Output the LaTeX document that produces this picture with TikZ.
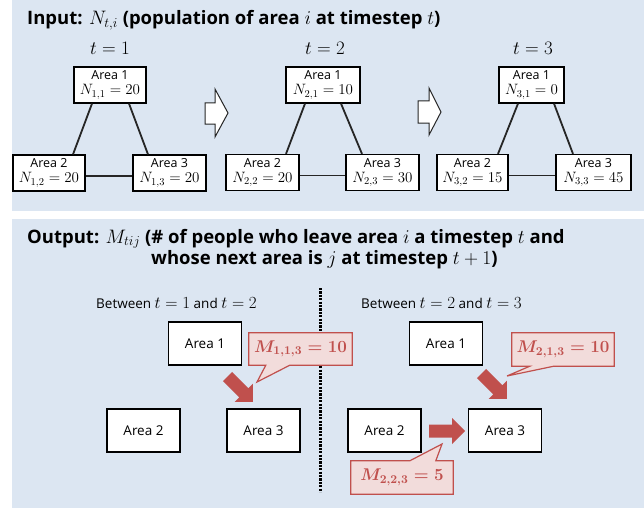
\documentclass[tikz,border=0pt]{standalone}
\usepackage{fix-cm}
\usepackage{fontspec}
\setmainfont{Open Sans}
\usetikzlibrary{calc}
\definecolor{panelblue}{HTML}{DCE6F2}
\definecolor{calloutpink}{HTML}{F2DCDB}
\definecolor{arrowred}{HTML}{C0504D}
\pgfdeclarelayer{bg}
\pgfdeclarelayer{mid}
\pgfsetlayers{bg,mid,main}
\newcommand\mth[2]{{\fontsize{#1}{#1}\selectfont$#2$}}
\newcommand\bmth[2]{{\fontsize{#1}{#1}\selectfont\boldmath$#2$}}
\newcommand\fatarr[4]{\fill[arrowred, shift={(#1,#2)}, rotate=#3] (0,-6.5) -- (#4-13,-6.5) -- (#4-13,-13) -- (#4,0) -- (#4-13,13) -- (#4-13,6.5) -- (0,6.5) -- cycle;}
\begin{document}
\begin{tikzpicture}[x=1pt,y=-1pt,
  panel/.style={fill=panelblue,draw=none},
  topbox/.style={draw=black,line width=1.2pt,fill=white,align=center,inner sep=1pt,minimum height=36pt,font=\fontsize{12.5}{15}\selectfont},
  lowbox/.style={draw=black,line width=1.2pt,fill=white,minimum width=73pt,minimum height=43pt,font=\fontsize{13.5}{15}\selectfont},
  conn/.style={line width=1.8pt,draw=black!85},
  hollow/.style={fill=white,draw=black!85,line width=1pt,line join=miter},
  titletext/.style={anchor=base west,inner sep=0pt,font=\fontsize{18.5}{21}\selectfont\bfseries},
  tlabel/.style={anchor=base,inner sep=0pt},
  betw/.style={anchor=west,inner sep=0pt,font=\fontsize{13.5}{15}\selectfont},
  callout/.style={inner sep=0pt,text=arrowred},
  calloutshape/.style={fill=calloutpink,draw=arrowred,line width=1.2pt,line join=miter},
  dotline/.style={line width=3pt,dash pattern=on 2.2pt off 1.2pt}
]
\useasboundingbox (0,0) rectangle (644,508);
\begin{pgfonlayer}{bg}
\fill[panel] (12,0) rectangle (644,211);
\fill[panel] (12,219) rectangle (644,508);
\end{pgfonlayer}

% ---------- Input panel ----------
\node[titletext] (intitle) at (27,25) {Input: \mth{19.5}{N_{t,i}} (population of area \mth{19.5}{i} at timestep \mth{19.5}{t})};
\node[tlabel] (t1) at (110,55) {\mth{19}{t = 1}};
\node[tlabel] (t2) at (325,55) {\mth{19}{t = 2}};
\node[tlabel] (t3) at (533,55) {\mth{19}{t = 3}};

% t = 1
\node[topbox,minimum width=72pt] (a11) at (110,85) {Area 1\\\mth{15}{N_{1,1} = 20}};
\node[topbox,minimum width=72pt] (a12) at (49,173) {Area 2\\\mth{15}{N_{1,2} = 20}};
\node[topbox,minimum width=73pt] (a13) at (169.5,173) {Area 3\\\mth{15}{N_{1,3} = 20}};
\draw[conn] ($(a11.south)+(-18,0)$) -- ($(a12.north)+(24,0)$);
\draw[conn] ($(a11.south)+(19,0)$) -- ($(a13.north)+(-21.5,0)$);
\draw[conn] ($(a12.east)+(0,3)$) -- ($(a13.west)+(0,3)$);

% t = 2
\node[topbox,minimum width=74pt] (a21) at (323,85) {Area 1\\\mth{15}{N_{2,1} = 10}};
\node[topbox,minimum width=73pt] (a22) at (262.5,172.5) {Area 2\\\mth{15}{N_{2,2} = 20}};
\node[topbox,minimum width=73pt] (a23) at (382.5,172.5) {Area 3\\\mth{15}{N_{2,3} = 30}};
\draw[conn] ($(a21.south)+(-18,0)$) -- ($(a22.north)+(23.5,0)$);
\draw[conn] ($(a21.south)+(18,0)$) -- ($(a23.north)+(-20.5,0)$);
\draw[conn] ($(a22.east)+(0,3)$) -- ($(a23.west)+(0,3)$);

% t = 3
\node[topbox,minimum width=65pt] (a31) at (531.5,85) {Area 1\\\mth{15}{N_{3,1} = 0}};
\node[topbox,minimum width=71pt] (a32) at (472.5,172.5) {Area 2\\\mth{15}{N_{3,2} = 15}};
\node[topbox,minimum width=75pt] (a33) at (593.5,172.5) {Area 3\\\mth{15}{N_{3,3} = 45}};
\draw[conn] ($(a31.south)+(-13.5,0)$) -- ($(a32.north)+(25.5,0)$);
\draw[conn] ($(a31.south)+(22.5,0)$) -- ($(a33.north)+(-20.5,0)$);
\draw[conn] ($(a32.east)+(0,3)$) -- ($(a33.west)+(0,3)$);

% hollow step arrows
\draw[hollow] (205,103) -- (215,103) -- (215,89) -- (228,113) -- (215,137) -- (215,124) -- (205,124) -- cycle;
\draw[hollow] (418,101) -- (429,101) -- (429,88) -- (441,112) -- (429,135) -- (429,123) -- (418,123) -- cycle;

% ---------- Output panel ----------
\node[titletext] (outtitle1) at (27,243) {Output: \mth{19.5}{M_{tij}} (\# of people who leave area \mth{19.5}{i} a timestep \mth{19.5}{t} and};
\node[titletext] (outtitle2) at (151,264) {whose next area is \mth{19.5}{j} at timestep \mth{19.5}{t+1})};

\node[betw] (btw1) at (96,303) {Between \mth{17}{t = 1} and \mth{17}{t = 2}};
\node[betw] (btw2) at (361,303) {Between \mth{17}{t = 2} and \mth{17}{t = 3}};

\coordinate (dtop) at (320,288);
\coordinate (dbot) at (320,492);

\node[lowbox] (b11) at (205,343.5) {Area 1};
\node[lowbox] (b12) at (143.5,430.5) {Area 2};
\node[lowbox] (b13) at (263.5,430.5) {Area 3};

\node[lowbox] (b21) at (446,343.5) {Area 1};
\node[lowbox] (b22) at (384.5,430.5) {Area 2};
\node[lowbox] (b23) at (505,430.5) {Area 3};

% fat red arrows
\fatarr{227.5}{376.5}{-45}{36}
\fatarr{481.5}{373.5}{-45}{36}
\fatarr{429}{431}{0}{36}

% callouts
\node[callout,minimum width=103pt,minimum height=32pt] (c1) at (300.5,349) {\bmth{17}{M_{1,1,3} = 10}};
\coordinate (c1tip) at (257,382);
\node[callout,minimum width=102pt,minimum height=33pt] (c2) at (563,349.5) {\bmth{17}{M_{2,1,3} = 10}};
\coordinate (c2tip) at (507,376);
\node[callout,minimum width=102pt,minimum height=33pt] (c3) at (402,477.5) {\bmth{17}{M_{2,2,3} = 5}};
\coordinate (c3tip) at (442,444);
\begin{pgfonlayer}{mid}
\draw[dotline] (dtop) -- (dbot);
\draw[calloutshape] (c1.north west) -- (c1.north east) -- (c1.south east) -- ($(c1.south west)+(41,0)$) -- (c1tip) -- ($(c1.south west)+(17,0)$) -- (c1.south west) -- cycle;
\draw[calloutshape] (c2.north west) -- (c2.north east) -- (c2.south east) -- ($(c2.south west)+(42,0)$) -- (c2tip) -- ($(c2.south west)+(18,0)$) -- (c2.south west) -- cycle;
\draw[calloutshape] (c3.north west) -- ($(c3.north west)+(59,0)$) -- (c3tip) -- ($(c3.north west)+(85,0)$) -- (c3.north east) -- (c3.south east) -- (c3.south west) -- cycle;
\end{pgfonlayer}
\end{tikzpicture}
\end{document}
